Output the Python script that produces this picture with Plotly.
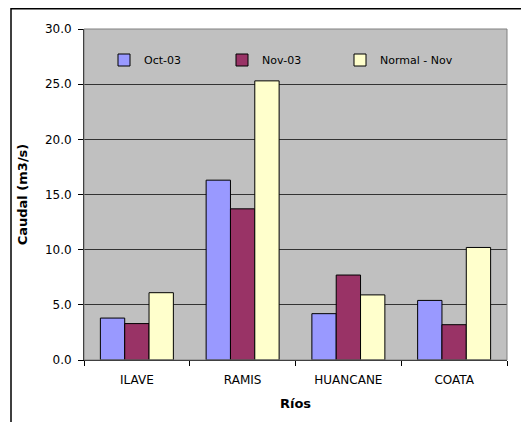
import plotly.graph_objects as go

rios = ["ILAVE", "RAMIS", "HUANCANE", "COATA"]
oct_03 = [3.8, 16.3, 4.2, 5.4]
nov_03 = [3.3, 13.7, 7.7, 3.2]
normal_nov = [6.1, 25.3, 5.9, 10.2]

y_ticks = [0, 5, 10, 15, 20, 25, 30]

# page body has an 8px margin, so the figure is shrunk and shifted by it
OFF = 8
W, H = 529 - OFF, 422 - OFF
L, R, T, B = 76, 22, 21, 62
pw = W - L - R
ph = H - T - B

def px_x(sx):
    # screen x -> paper x
    return (sx - OFF - L) / pw

def px_y(sy):
    # screen y -> paper y
    return (H - B - (sy - OFF)) / ph

fig = go.Figure()
series = [
    ("Oct-03", oct_03, "#9999FF"),
    ("Nov-03", nov_03, "#993366"),
    ("Normal - Nov", normal_nov, "#FFFFCC"),
]
for name, vals, color in series:
    fig.add_trace(go.Bar(
        x=rios, y=vals, name=name,
        marker=dict(color=color, line=dict(color="black", width=1)),
    ))

fam = "DejaVu Sans, Arial, sans-serif"
font = dict(family=fam, size=11, color="black")

fig.update_layout(
    width=W, height=H,
    margin=dict(l=L, r=R, t=T, b=B),
    paper_bgcolor="white",
    plot_bgcolor="#C0C0C0",
    barmode="group",
    bargap=0.31,
    bargroupgap=0,
    font=font,
    showlegend=True,
    legend=dict(
        orientation="h",
        x=px_x(104), y=px_y(60), xanchor="left", yanchor="middle",
        bgcolor="rgba(0,0,0,0)",
        itemwidth=30,
        entrywidth=73, entrywidthmode="pixels",
        font=dict(family=fam, size=11),
    ),
    shapes=[
        dict(type="rect", xref="paper", yref="paper",
             x0=px_x(11), x1=px_x(527), y0=px_y(440), y1=px_y(8.7),
             line=dict(color="black", width=1.5), fillcolor="rgba(0,0,0,0)",
             layer="below"),
        dict(type="rect", xref="paper", yref="paper",
             x0=0, x1=1, y0=0, y1=1,
             line=dict(color="#808080", width=1), fillcolor="rgba(0,0,0,0)"),
    ],
)

fig.update_xaxes(
    title=dict(text="<b>Ríos</b>", standoff=12),
    tickfont=dict(size=12),
    ticklabelstandoff=9,
    showline=True, linecolor="black", linewidth=1,
    ticks="outside", tickson="boundaries", ticklen=5, tickcolor="black",
    showgrid=False,
)
fig.update_yaxes(
    title=dict(text="<b>Caudal (m3/s)</b>", standoff=14),
    tickfont=dict(size=12),
    ticklabelstandoff=4,
    range=[0, 30], tickvals=y_ticks,
    ticktext=[f"{v:.1f}" for v in y_ticks],
    showline=True, linecolor="black", linewidth=1,
    ticks="outside", ticklen=5, tickcolor="black",
    showgrid=True, gridcolor="#333333", gridwidth=1,
    zeroline=False,
)

fig.write_html("out.html")
